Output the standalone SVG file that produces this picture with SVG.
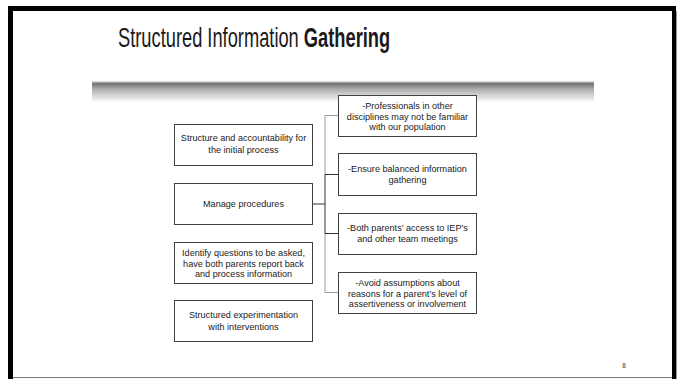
<svg xmlns="http://www.w3.org/2000/svg" width="683" height="379" viewBox="0 0 683 379">
<defs>
<linearGradient id="bar" x1="0" y1="0" x2="0" y2="1">
<stop offset="0" stop-color="#6a6a6a"/>
<stop offset="0.35" stop-color="#b0b0b0"/>
<stop offset="1" stop-color="#ffffff"/>
</linearGradient>
</defs>
<style>
.box{fill:#fff;stroke:#404040;stroke-width:1}
.t{font-family:"Liberation Sans",Arial,sans-serif;font-size:9.1px;fill:#1a1a1a;text-anchor:middle}
.dk{stroke:#333;stroke-width:1;fill:none}
.lt{stroke:#9a9a9a;stroke-width:1;fill:none}
.title{font-family:"Liberation Sans",Arial,sans-serif;font-size:27px;fill:#1a1a1a}
</style>
<rect x="0" y="0" width="683" height="379" fill="#fff"/>
<!-- slide frame -->
<rect x="8" y="6" width="668" height="5" fill="#000"/>
<rect x="8" y="6" width="5" height="373" fill="#000"/>
<rect x="672" y="6" width="4" height="373" fill="#000"/>
<line x1="676.5" y1="11" x2="676.5" y2="379" stroke="#999"/>
<line x1="13" y1="377.5" x2="672" y2="377.5" stroke="#777"/>
<!-- title -->
<text class="title" transform="translate(118,47) scale(0.677,1)" x="0" y="0">Structured Information <tspan font-weight="bold">Gathering</tspan></text>
<!-- gradient bar -->
<rect x="92" y="81" width="502" height="1.5" fill="#d8d8d8"/>
<rect x="92" y="82.5" width="502" height="20" fill="url(#bar)"/>
<!-- connectors -->
<g id="connectors">
<polyline class="lt" points="325,175 325,115.5 338,115.5"/>
<polyline class="lt" points="325,233 325,292.5 338,292.5"/>
<polyline class="dk" points="312,204 325,204"/>
<polyline class="dk" points="325,174.5 325,233.5"/>
<polyline class="dk" points="325,174.5 338,174.5"/>
<polyline class="dk" points="325,233.5 338,233.5"/>
</g>
<!-- left nodes -->
<g id="n-structure">
<rect class="box" x="174.5" y="124.5" width="138" height="41"/>
<text class="t" x="243.5" y="141">Structure and accountability for</text>
<text class="t" x="243.5" y="153">the initial process</text>
</g>
<g id="n-manage">
<rect class="box" x="174.5" y="183.5" width="138" height="41"/>
<text class="t" x="243.5" y="207">Manage procedures</text>
</g>
<g id="n-identify">
<rect class="box" x="174.5" y="242.5" width="138" height="41"/>
<text class="t" x="243.5" y="256">Identify questions to be asked,</text>
<text class="t" x="243.5" y="266.5">have both parents report back</text>
<text class="t" x="243.5" y="277">and process information</text>
</g>
<g id="n-experiment">
<rect class="box" x="174.5" y="300.5" width="138" height="41"/>
<text class="t" x="243.5" y="318">Structured experimentation</text>
<text class="t" x="243.5" y="330">with interventions</text>
</g>
<!-- right nodes -->
<g id="n-professionals">
<rect class="box" x="338.5" y="95.5" width="138" height="41"/>
<text class="t" x="407.5" y="109">-Professionals in other</text>
<text class="t" x="407.5" y="119.5">disciplines may not be familiar</text>
<text class="t" x="407.5" y="130">with our population</text>
</g>
<g id="n-balanced">
<rect class="box" x="338.5" y="153.5" width="138" height="42"/>
<text class="t" x="407.5" y="172">-Ensure balanced information</text>
<text class="t" x="407.5" y="183">gathering</text>
</g>
<g id="n-access">
<rect class="box" x="338.5" y="213.5" width="138" height="41"/>
<text class="t" x="407.5" y="231">-Both parents’ access to IEP’s</text>
<text class="t" x="407.5" y="242">and other team meetings</text>
</g>
<g id="n-avoid">
<rect class="box" x="338.5" y="272.5" width="138" height="41"/>
<text class="t" x="407.5" y="286">-Avoid assumptions about</text>
<text class="t" x="407.5" y="296.5">reasons for a parent’s level of</text>
<text class="t" x="407.5" y="307">assertiveness or involvement</text>
</g>
<text x="624" y="368" font-family="Liberation Sans,Arial,sans-serif" font-size="6.5px" fill="#333" text-anchor="middle">8</text>
</svg>
